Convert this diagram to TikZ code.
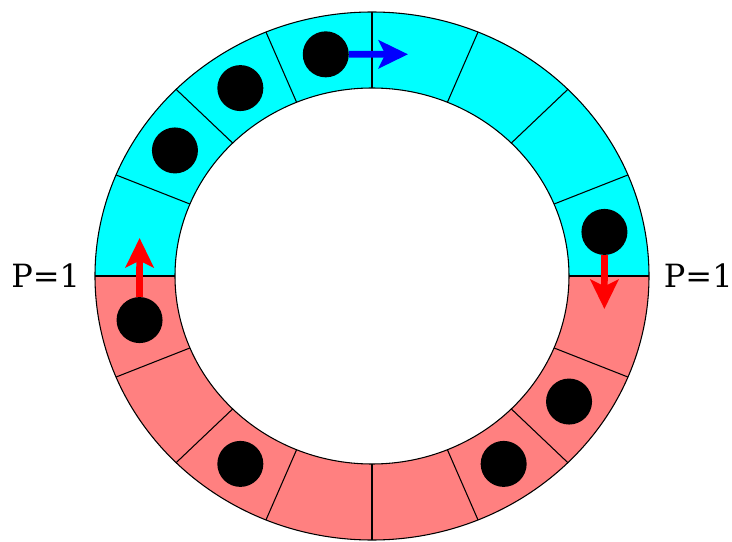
\documentclass[tikz,border=0pt]{standalone}
\usepackage{fontspec}
\setmainfont{DejaVu Serif}
\usetikzlibrary{arrows.meta,positioning}
\definecolor{ringtop}{RGB}{0,255,255}
\definecolor{ringbot}{RGB}{255,128,128}

\begin{document}
\begin{tikzpicture}[x=0.75pt, y=0.75pt,
  ball/.style={circle, fill=black, minimum size=34.5pt, inner sep=0pt},
  hop/.style={-{Stealth[length=22pt, width=21pt, inset=5pt]}, line width=5pt},
  plabel/.style={font=\fontsize{24}{28}\selectfont, inner sep=0pt},
  cellline/.style={draw=black, line width=0.8pt},
]
\useasboundingbox (-372,-266) rectangle (360,276);

% the two halves of the ring
\fill[ringtop] (0:277 and 264) arc[start angle=0, end angle=180, x radius=277, y radius=264]
  -- (180:197 and 188) arc[start angle=180, end angle=0, x radius=197, y radius=188] -- cycle;
\fill[ringbot] (180:277 and 264) arc[start angle=180, end angle=360, x radius=277, y radius=264]
  -- (0:197 and 188) arc[start angle=360, end angle=180, x radius=197, y radius=188] -- cycle;

\foreach \a in {0,22.5,...,337.5}
  \draw[cellline] (\a:197 and 188) -- (\a:277 and 264);
\draw[cellline] (0,0) ellipse [x radius=277, y radius=264];
\draw[cellline] (0,0) ellipse [x radius=197, y radius=188];

% occupied cells
\foreach \a/\n in {191.25/b1, 146.25/b2, 123.75/b3, 101.25/b4,
                   11.25/b5, 326.25/b6, 303.75/b7, 236.25/b8}
  \node[ball] (\n) at (\a:237 and 226) {};

\coordinate (upL) at (-232.4,38);
\coordinate (dnR) at (232.4,-33);
\coordinate (fwd) at (36,221.7);
\draw[hop, red] (b1) -- (upL);
\draw[hop, red] (b5) -- (dnR);
\draw[hop, blue] (b4) -- (fwd);

\coordinate (wl) at (180:277 and 264);
\coordinate (wr) at (0:277 and 264);
\node[plabel, left=11pt of wl] (pl) {P=1};
\node[plabel, right=11pt of wr] (pr) {P=1};

\end{tikzpicture}
\end{document}
